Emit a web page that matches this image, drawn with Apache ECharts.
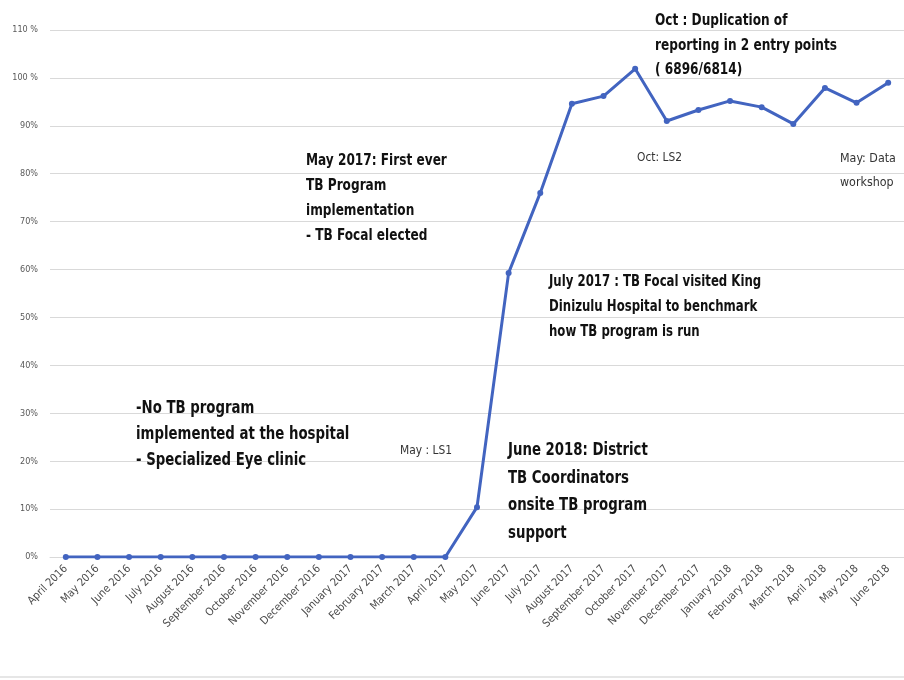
<!DOCTYPE html>
<html>
<head>
<meta charset="utf-8">
<script src="https://cdn.jsdelivr.net/npm/echarts@6/dist/echarts.min.js"></script>
<style>
  html, body { margin: 0; padding: 0; background: #ffffff; }
  #chart { width: 904px; height: 680px; }
</style>
</head>
<body>
<div id="chart"></div>
<script>
// Monthly TB reporting completeness, April 2016 – June 2018
const months = [
  'April 2016', 'May 2016', 'June 2016', 'July 2016', 'August 2016', 'September 2016',
  'October 2016', 'November 2016', 'December 2016', 'January 2017', 'February 2017',
  'March 2017', 'April 2017', 'May 2017', 'June 2017', 'July 2017', 'August 2017',
  'September 2017', 'October 2017', 'November 2017', 'December 2017', 'January 2018',
  'February 2018', 'March 2018', 'April 2018', 'May 2018', 'June 2018'
];
const completeness = [
  0, 0, 0, 0, 0, 0, 0, 0, 0, 0, 0, 0, 0,
  10.4, 59.3, 76.0, 94.6, 96.2, 101.9, 91.0, 93.3, 95.2, 93.9, 90.4, 97.9, 94.8, 99.0
];
const yTickLabels = {
  0: '0%', 10: '10%', 20: '20%', 30: '30%', 40: '40%', 50: '50%',
  60: '60%', 70: '70%', 80: '80%', 90: '90%', 100: '100 %', 110: '110 %'
};

const FONT = '"Liberation Sans Narrow", "DejaVu Sans Condensed", "Open Sans", sans-serif';
const chart = echarts.init(document.getElementById('chart'), null, { renderer: 'canvas' });

// Free-standing annotation text, condensed horizontally to a narrow look
function note(x, y, text, opts) {
  opts = opts || {};
  return {
    type: 'text',
    x: x,
    y: y,
    scaleX: opts.sx || 0.87,
    originX: 0,
    originY: 0,
    z: 10,
    style: {
      text: text,
      x: 0,
      y: 0,
      verticalAlign: 'top',
      fill: opts.color || '#111111',
      font: (opts.bold === false ? '' : 'bold ') + (opts.size || 16) + 'px ' + FONT,
      lineHeight: opts.lh || 25
    }
  };
}

chart.setOption({
  animation: false,
  backgroundColor: '#ffffff',
  textStyle: { fontFamily: FONT },
  grid: { left: 50, top: 30, width: 863, height: 527, containLabel: false },
  xAxis: {
    type: 'category',
    data: months,
    boundaryGap: true,
    axisLine: { show: true, lineStyle: { color: '#d9d9d9', width: 1 } },
    axisTick: { show: false },
    axisLabel: {
      interval: 0,
      rotate: 45,
      margin: 10,
      fontSize: 11,
      color: '#4a4a4a',
      fontFamily: FONT
    }
  },
  yAxis: {
    type: 'value',
    min: 0,
    max: 110,
    interval: 10,
    axisLine: { show: false },
    axisTick: { show: false },
    splitLine: { lineStyle: { color: '#d9d9d9', width: 1 } },
    axisLabel: {
      margin: 12,
      fontSize: 9,
      color: '#595959',
      fontFamily: FONT,
      formatter: v => yTickLabels[v] || ''
    }
  },
  series: [{
    type: 'line',
    data: completeness,
    symbol: 'circle',
    symbolSize: 6,
    lineStyle: { color: '#4264c0', width: 3 },
    itemStyle: { color: '#4264c0' }
  }],
  graphic: [
    note(136, 396, '-No TB program\nimplemented at the hospital\n- Specialized Eye clinic', { size: 17, lh: 26 }),
    note(306, 148, 'May 2017: First ever\nTB Program\nimplementation\n- TB Focal elected', { size: 15.5, lh: 25 }),
    note(549, 270, 'July 2017 : TB Focal visited King\nDinizulu Hospital to benchmark\nhow TB program is run', { size: 15, lh: 25 }),
    note(508, 437, 'June 2018: District\nTB Coordinators\nonsite TB program\nsupport', { size: 17, lh: 27.5 }),
    note(655, 9, 'Oct : Duplication of\nreporting in 2 entry points\n( 6896/6814)', { size: 15.5, lh: 24.5 }),
    note(400, 443, 'May : LS1', { size: 12.5, bold: false, color: '#333333', lh: 16, sx: 0.95 }),
    note(637, 150, 'Oct: LS2', { size: 12.5, bold: false, color: '#333333', lh: 16, sx: 0.95 }),
    note(840, 147, 'May: Data\nworkshop', { size: 13, bold: false, color: '#333333', lh: 24, sx: 0.95 }),
    {
      type: 'rect',
      shape: { x: 0, y: 676, width: 904, height: 2 },
      style: { fill: '#e6e6e6' }
    }
  ]
});
</script>
</body>
</html>
